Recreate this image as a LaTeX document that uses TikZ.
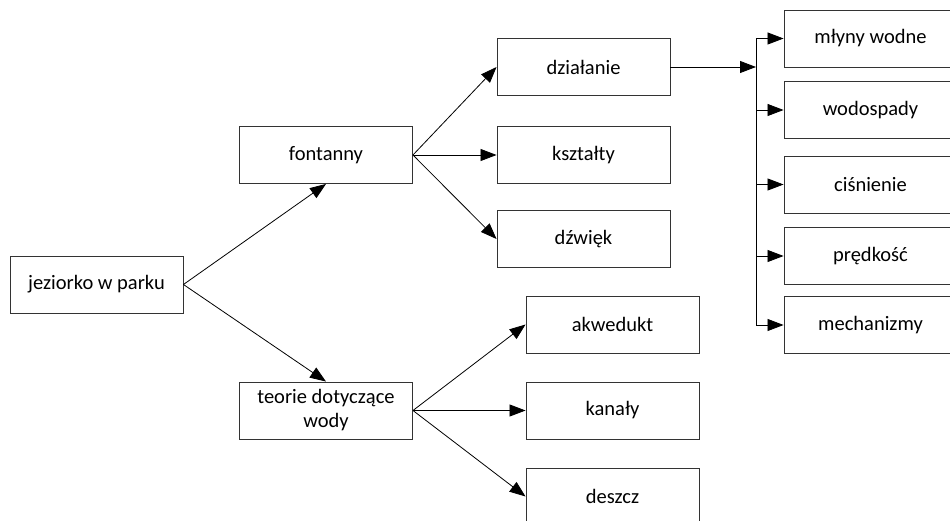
\documentclass[tikz,border=0pt]{standalone}
\usepackage{fontspec}
\setmainfont{Carlito}
\usetikzlibrary{arrows.meta}
\begin{document}
\begin{tikzpicture}[x=1pt,y=-1pt,
  box/.style={draw=black!80, line width=0.9pt, rectangle, minimum width=173pt, minimum height=57pt,
    inner sep=0pt, align=center, font=\fontsize{20.5}{24}\selectfont},
  conn/.style={draw=black, line width=0.8pt},
  arr/.style={conn, -{Triangle[length=16pt,width=12pt]}}]
\useasboundingbox (0,0) rectangle (950,521);
\clip (0,0) rectangle (950,521);
\fill[white] (0,0) rectangle (950,521);
\node[box] (jez) at (96.5,284.5) {jeziorko w parku};
\node[box] (fon) at (326,155) {fontanny};
\node[box] (teo) at (326,410.5) {teorie dotyczące\\wody};
\node[box] (dzi) at (583.5,67) {działanie};
\node[box] (ksz) at (583.5,155) {kształty};
\node[box] (dzw) at (583.5,239) {dźwięk};
\node[box] (akw) at (612.5,324.5) {akwedukt};
\node[box] (kan) at (612.5,410.5) {kanały};
\node[box] (des) at (612.5,496.5) {deszcz};
\node[box] (mly) at (870.5,38.5) {młyny wodne};
\node[box] (wod) at (870.5,110) {wodospady};
\node[box] (cis) at (870.5,184.5) {ciśnienie};
\node[box] (pre) at (870.5,256) {prędkość};
\node[box] (mec) at (870.5,325) {mechanizmy};
\coordinate (bus) at (756,67);
\draw[arr] (jez.east) -- (fon.south);
\draw[arr] (jez.east) -- (teo.north);
\draw[arr] (fon.east) -- (dzi.west);
\draw[arr] (fon.east) -- (ksz.west);
\draw[arr] (fon.east) -- (dzw.west);
\draw[arr] (teo.east) -- (akw.west);
\draw[arr] (teo.east) -- (kan.west);
\draw[arr] (teo.east) -- (des.west);
\draw[arr] (dzi.east) -- (bus);
\draw[conn] (bus |- mly.west) -- (bus |- mec.west);
\foreach \n in {mly,wod,cis,pre,mec}
  \draw[arr] (bus |- \n.west) -- (\n.west);
\end{tikzpicture}
\end{document}
